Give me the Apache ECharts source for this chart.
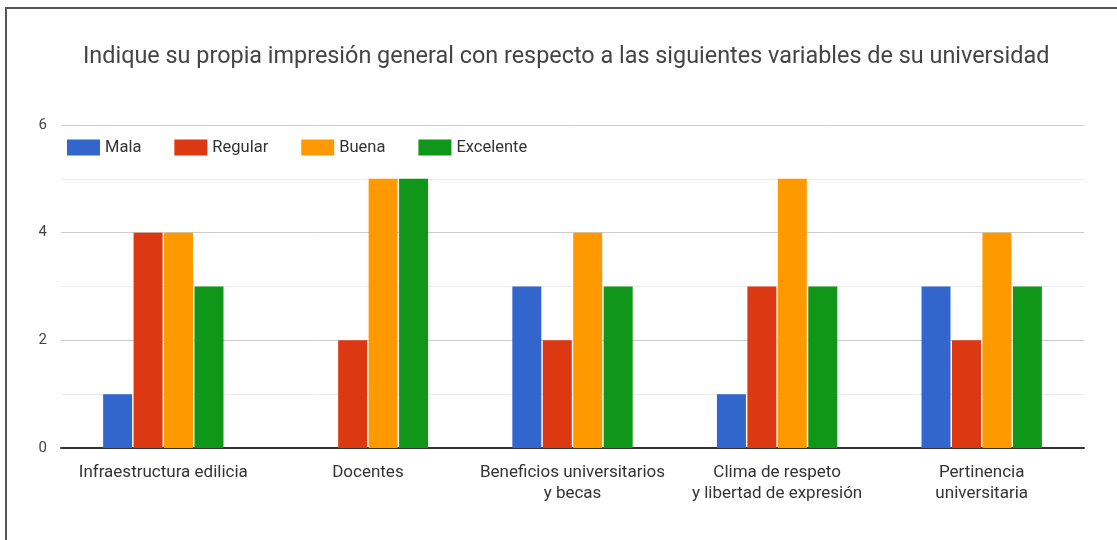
<!DOCTYPE html>
<html><head><meta charset="utf-8">
<script src="https://cdn.jsdelivr.net/npm/echarts@6/dist/echarts.min.js"></script>
<style>html,body{margin:0;padding:0;background:#fff;}#c{width:1117px;height:540px;}</style>
</head><body><div id="c"></div>
<script>
const categories = ['Infraestructura edilicia', 'Docentes', 'Beneficios universitarios\ny becas', 'Clima de respeto\ny libertad de expresión', 'Pertinencia\nuniversitaria'];
const seriesNames = ['Mala', 'Regular', 'Buena', 'Excelente'];
const mala = [1, 0, 3, 1, 3];
const regular = [4, 2, 2, 3, 2];
const buena = [4, 5, 4, 5, 4];
const excelente = [3, 5, 3, 3, 3];
const colors = ['#3366cc', '#dc3912', '#ff9900', '#109618'];
const values = [mala, regular, buena, excelente];
const titleText = 'Indique su propia impresión general con respecto a las siguientes variables de su universidad';

const chart = echarts.init(document.getElementById('c'));
const font = 'Roboto, Arial, sans-serif';
chart.setOption({
  animation: false,
  textStyle: { fontFamily: font },
  title: { text: titleText, left: 78, top: 41, textStyle: { fontSize: 23.4, fontWeight: 'normal', color: '#444', fontFamily: font } },
  legend: { left: 62, top: 134, itemWidth: 33, itemHeight: 16, itemGap: 33, icon: 'rect',
    textStyle: { fontSize: 16.5, color: '#333', fontFamily: font } },
  grid: { left: 61, right: 33, top: 125, bottom: 92 },
  xAxis: { type: 'category', data: categories,
    axisLine: { lineStyle: { color: '#333', width: 2 } }, axisTick: { show: false },
    axisLabel: { fontSize: 17, color: '#333', lineHeight: 21, margin: 14, interval: 0, fontFamily: font } },
  yAxis: { type: 'value', min: 0, max: 6, interval: 2,
    axisLabel: { fontSize: 15, color: '#444', margin: 14, fontFamily: font },
    splitLine: { lineStyle: { color: '#ccc', width: 1 } },
    minorTick: { show: false, splitNumber: 2 },
    minorSplitLine: { show: true, lineStyle: { color: '#ebebeb', width: 1 } } },
  series: seriesNames.map((n, i) => ({ name: n, type: 'bar', data: values[i], barWidth: 29, barGap: '5%',
    itemStyle: { color: colors[i] } })),
  color: colors,
  graphic: [
    { type: 'line', shape: { x1: 6, y1: 8, x2: 6, y2: 540 }, style: { stroke: '#555', lineWidth: 2 } },
    { type: 'line', shape: { x1: 5, y1: 8, x2: 1117, y2: 8 }, style: { stroke: '#555', lineWidth: 2 } }
  ]
});
</script></body></html>
